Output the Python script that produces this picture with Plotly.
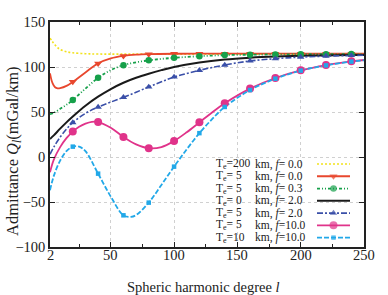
import plotly.graph_objects as go

# ---------------- data ----------------
x_te200_f0 = [2, 4, 6, 8, 10, 15, 20, 30, 40, 60, 80, 100, 150, 200, 250]
y_te200_f0 = [132, 128, 124.5, 121.5, 119.5, 117, 115.8, 114.8, 114.4, 114.3, 114.3, 114.3, 114.3, 114.3, 114.3]

x_te5_f0 = [2, 4, 6, 8, 10, 15, 20, 30, 40, 50, 60, 70, 80, 100, 120, 140, 160, 180, 200, 220, 240, 250]
y_te5_f0 = [93, 82, 77.5, 76.3, 76.5, 79, 83.5, 94, 104, 109.5, 112.3, 113.7, 114.3, 114.7, 114.8, 114.8, 114.8, 114.8, 114.8, 114.8, 114.8, 114.8]

x_te5_f03 = [2, 5, 10, 15, 20, 30, 40, 50, 60, 70, 80, 90, 100, 120, 140, 160, 180, 200, 220, 240, 250]
y_te5_f03 = [47.5, 49, 53.5, 58, 63.3, 76, 88, 96.5, 102, 105.2, 107.4, 109, 110.2, 112, 113.2, 113.7, 114, 114.2, 114.3, 114.4, 114.4]

x_te0_f2 = [2, 5, 10, 15, 20, 30, 40, 50, 60, 70, 80, 90, 100, 120, 140, 160, 180, 200, 220, 240, 250]
y_te0_f2 = [20, 24, 31.5, 38.5, 45, 57, 67, 75.5, 82.5, 88, 92.5, 96.5, 100, 105, 108.3, 110.3, 111.6, 112.4, 112.9, 113.2, 113.3]

x_te5_f2 = [2, 5, 10, 15, 20, 30, 40, 50, 60, 70, 80, 90, 100, 120, 140, 160, 180, 200, 220, 240, 250]
y_te5_f2 = [3, 11, 22, 31, 38.2, 48.5, 55.5, 61, 66.3, 72, 77.8, 83.5, 88.9, 96.3, 102.2, 106.7, 109.3, 111, 112.1, 112.8, 113]

x_te5_f10 = [2, 5, 10, 15, 20, 25, 30, 35, 40, 50, 60, 70, 80, 90, 100, 110, 120, 130, 140, 160, 180, 200, 220, 240, 250]
y_te5_f10 = [-17, -3, 11, 21, 28.2, 33.5, 37, 39, 38.8, 32.5, 22.2, 14, 9.7, 11, 17.8, 27.5, 38.5, 49.5, 59.7, 76, 87.8, 96.3, 102.2, 106.3, 107.8]

x_te10_f10 = [2, 5, 10, 15, 20, 25, 30, 40, 50, 60, 66, 70, 80, 90, 100, 110, 120, 130, 140, 160, 180, 200, 220, 240, 250]
y_te10_f10 = [-37, -21, -4, 6.5, 11.5, 11.5, 6.5, -18.5, -44, -64.8, -66.5, -64.5, -50.7, -31, -10.7, 8.5, 26.5, 42, 55.6, 74.4, 87, 96, 101.8, 106, 107.5]

marker_degrees = [20, 40, 60, 80, 100, 120, 140, 160, 180, 200, 220, 240]

labels_te = ["200", "\u00a05", "\u00a05", "\u00a00", "\u00a05", "\u00a05", "10"]
labels_f = ["\u00a00.0", "\u00a00.0", "\u00a00.3", "\u00a02.0", "\u00a02.0", "10.0", "10.0"]

x_ticks = [2, 50, 100, 150, 200, 250]
x_minor = [25, 75, 125, 175, 225]
y_ticks = [-100, -50, 0, 50, 100, 150]

# ---------------- styles ----------------
series = [
    (x_te200_f0, y_te200_f0, dict(color="#F2E21E", width=1.6, dash="2px,2px"), None),
    (x_te5_f0, y_te5_f0, dict(color="#E8472E", width=1.8), dict(symbol="triangle-down", size=7)),
    (x_te5_f03, y_te5_f03, dict(color="#16A04A", width=1.8, dash="3px,2px,1px,2px,1px,2px"), dict(symbol="circle", size=6.5)),
    (x_te0_f2, y_te0_f2, dict(color="#1a1a1a", width=2.0), None),
    (x_te5_f2, y_te5_f2, dict(color="#3A4FA8", width=1.6, dash="6px,2px,2px,2px"), dict(symbol="triangle-up", size=6.5)),
    (x_te5_f10, y_te5_f10, dict(color="#E0338A", width=1.8), dict(symbol="circle", size=8)),
    (x_te10_f10, y_te10_f10, dict(color="#22A8E8", width=1.8, dash="5px,2px"), dict(symbol="square", size=4.5)),
]

FONT = "Liberation Serif, Times New Roman, serif"

fig = go.Figure()

for xs, ys, line, mk in series:
    fig.add_trace(go.Scatter(x=xs, y=ys, mode="lines", line=dict(shape="spline", smoothing=1.0, **line),
                             showlegend=False, hoverinfo="skip"))
for xs, ys, line, mk in series:
    if mk is None:
        continue
    mx = [x for x in xs if x in marker_degrees]
    my = [y for x, y in zip(xs, ys) if x in marker_degrees]
    fig.add_trace(go.Scatter(x=mx, y=my, mode="markers",
                             marker=dict(color=line["color"], line=dict(width=0), **mk),
                             showlegend=False, hoverinfo="skip"))

# ---------------- hand-built legend (text left, sample right) ----------------
L_PX, R_PX, T_PX, B_PX = 50, 364, 22, 247
W, H = R_PX - L_PX, B_PX - T_PX
def fx(px):
    return (px - L_PX) / W
def fy(py):
    return (B_PX - py) / H

annotations = []
for k, (xs, ys, line, mk) in enumerate(series):
    py = 164 + 12.27 * k
    yy = fy(py)
    sizes = [0, mk["size"] if mk else 0, 0]
    fig.add_trace(go.Scatter(
        x=[fx(317), fx(333.5), fx(350)], y=[yy, yy, yy], xaxis="x2", yaxis="y2",
        mode="lines+markers", line=line,
        marker=dict(color=line["color"], size=sizes, symbol=(mk["symbol"] if mk else "circle"), line=dict(width=0)),
        showlegend=False, hoverinfo="skip"))
    annotations.append(dict(xref="paper", yref="paper", x=fx(214), y=yy, xanchor="left", yanchor="middle",
                            text="T<sub>e</sub>=" + labels_te[k], showarrow=False,
                            font=dict(family=FONT, size=11.5, color="#222")))
    annotations.append(dict(xref="paper", yref="paper", x=fx(252.5), y=yy, xanchor="left", yanchor="middle",
                            text="km, <i>f</i>=" + labels_f[k], showarrow=False,
                            font=dict(family=FONT, size=11.5, color="#222")))

# x tick labels placed as annotations (closer to the axis, like the reference)
for v in x_ticks:
    annotations.append(dict(xref="x", yref="paper", x=v, y=fy(255), xanchor="center", yanchor="middle",
                            text=str(v), showarrow=False,
                            font=dict(family=FONT, size=14.5, color="#222")))

annotations.append(dict(xref="paper", yref="paper", x=fx(203), y=fy(287), xanchor="center", yanchor="middle",
                        text="Spheric harmonic degree <i>l</i>", showarrow=False,
                        font=dict(family=FONT, size=14.5, color="#222")))
annotations.append(dict(xref="paper", yref="paper", x=fx(13), y=fy(151), xanchor="center", yanchor="middle",
                        textangle=-90, text="Admittance <i>Q</i><sub><i>l</i></sub>(mGal/km)", showarrow=False,
                        font=dict(family=FONT, size=16.5, color="#222")))

fig.update_layout(
    width=388, height=295,
    margin=dict(l=L_PX, r=388 - R_PX, t=T_PX, b=295 - B_PX),
    paper_bgcolor="white", plot_bgcolor="white",
    font=dict(family=FONT, size=14, color="#222"),
    xaxis=dict(range=[2, 250], tickvals=x_ticks, showticklabels=False,
               ticks="inside", ticklen=5, tickwidth=1, tickcolor="#222",
               minor=dict(tickvals=x_minor, ticks="inside", ticklen=3, tickcolor="#222", showgrid=False),
               showline=True, linecolor="#222", linewidth=1.5, mirror="ticks",
               showgrid=True, gridcolor="#d0d0d0", griddash="dot", gridwidth=1, zeroline=False),
    yaxis=dict(range=[-100, 150], tickvals=y_ticks,
               ticks="inside", ticklen=5, tickwidth=1, tickcolor="#222",
               showline=True, linecolor="#222", linewidth=1.5, mirror="ticks",
               showgrid=True, gridcolor="#d0d0d0", griddash="dot", gridwidth=1, zeroline=False,
               tickfont=dict(family=FONT, size=14.5, color="#222")),
    xaxis2=dict(overlaying="x", range=[0, 1], visible=False, fixedrange=True),
    yaxis2=dict(overlaying="y", range=[0, 1], visible=False, fixedrange=True),
    shapes=[dict(type="rect", xref="paper", yref="paper", x0=fx(172), x1=fx(362.5), y0=fy(245.5), y1=fy(160),
                 fillcolor="white", line=dict(width=0), layer="between")],
    annotations=annotations,
    showlegend=False,
)

fig.write_html("out.html", config={"displayModeBar": False},
               post_script="document.body.style.margin='0';document.body.style.overflow='hidden';")
